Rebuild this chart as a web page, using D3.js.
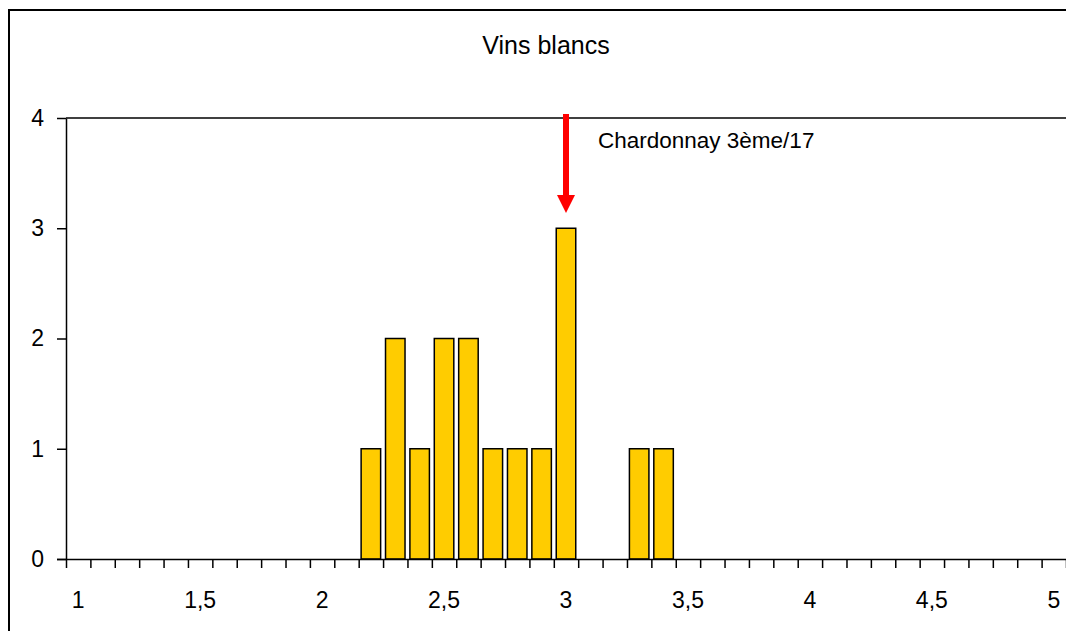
<!DOCTYPE html>
<html>
<head>
<meta charset="utf-8">
<script src="https://cdn.jsdelivr.net/npm/d3@7"></script>
<style>
  html, body { margin: 0; padding: 0; background: #fff; overflow: hidden; }
  svg { display: block; }
  text { font-family: "Liberation Sans", Arial, sans-serif; fill: #000; }
</style>
</head>
<body>
<div id="chart"></div>
<script>
// data
var scores = [2.2, 2.3, 2.4, 2.5, 2.6, 2.7, 2.8, 2.9, 3.0, 3.3, 3.4];
var counts = [1, 2, 1, 2, 2, 1, 1, 1, 3, 1, 1];
var xTickLabels = [1, 1.5, 2, 2.5, 3, 3.5, 4, 4.5, 5];
var yTickLabels = [0, 1, 2, 3, 4];
var title = "Vins blancs";
var noteText = "Chardonnay 3ème/17";
var noteScore = 3.0;

var svgWidth = 1066;
var svgHeight = 631;

var plot = { left: 66, top: 118, right: 1066, bottom: 559 };

var svg = d3.select("#chart")
  .append("svg")
  .attr("width", svgWidth)
  .attr("height", svgHeight);

// outer chart frame: only its top and left sides fall inside the window
svg.append("line")
  .attr("x1", 8).attr("x2", svgWidth)
  .attr("y1", 10).attr("y2", 10)
  .attr("stroke", "#000")
  .attr("stroke-width", 2);
svg.append("line")
  .attr("x1", 9).attr("x2", 9)
  .attr("y1", 9).attr("y2", svgHeight)
  .attr("stroke", "#000")
  .attr("stroke-width", 2);

// scales: each score is a 0.1 wide class centred on its value
var x = d3.scaleLinear()
  .domain([0.95, 5.05])
  .range([plot.left, plot.right]);

var y = d3.scaleLinear()
  .domain([0, 4])
  .range([plot.bottom, plot.top]);

// plot area top border
svg.append("line")
  .attr("x1", plot.left).attr("x2", plot.right)
  .attr("y1", plot.top).attr("y2", plot.top)
  .attr("stroke", "#000")
  .attr("stroke-width", 1.5);

// bars
var rows = scores.map(function(s, i) { return { score: s, count: counts[i] }; });

svg.selectAll("rect.bar")
  .data(rows)
  .enter()
  .append("rect")
  .attr("class", "bar")
  .attr("x", d => x(d.score - 0.04))
  .attr("y", d => y(d.count))
  .attr("width", d => x(d.score + 0.04) - x(d.score - 0.04))
  .attr("height", d => y(0) - y(d.count))
  .attr("fill", "#FFCC00")
  .attr("stroke", "#000")
  .attr("stroke-width", 1.5);

// x axis: tick marks on class boundaries, labels every 0.5
var boundaries = d3.range(0, 42).map(k => 0.95 + k * 0.1);

var xAxis = d3.axisBottom(x)
  .tickValues(boundaries)
  .tickFormat("")
  .tickSize(9)
  .tickSizeOuter(0);

var gx = svg.append("g")
  .attr("transform", `translate(0, ${plot.bottom})`)
  .call(xAxis);
gx.select(".domain").attr("stroke", "#000").attr("stroke-width", 1.5)
  .attr("d", `M${plot.left - 9},0.5H${plot.right}`);
gx.selectAll(".tick line").attr("stroke", "#000").attr("stroke-width", 1.5);

var fmt = d3.formatLocale({ decimal: ",", thousands: " ", grouping: [3], currency: ["", "€"] }).format("~g");

svg.append("g")
  .selectAll("text")
  .data(xTickLabels)
  .enter()
  .append("text")
  .attr("x", d => x(d))
  .attr("y", 608)
  .attr("text-anchor", "middle")
  .attr("font-size", "23px")
  .text(d => fmt(d));

// y axis
var yAxis = d3.axisLeft(y)
  .tickValues(yTickLabels)
  .tickFormat(d3.format("d"))
  .tickSize(9)
  .tickSizeOuter(0)
  .tickPadding(13);

var gy = svg.append("g")
  .attr("transform", `translate(${plot.left}, 0)`)
  .call(yAxis);
gy.select(".domain").attr("stroke", "#000").attr("stroke-width", 1.5);
gy.selectAll(".tick line").attr("stroke", "#000").attr("stroke-width", 1.5);
gy.selectAll(".tick text")
  .attr("font-size", "23px")
  .attr("font-family", "Liberation Sans, Arial, sans-serif")
  .attr("fill", "#000");

// title
svg.append("text")
  .attr("x", 546)
  .attr("y", 54)
  .attr("text-anchor", "middle")
  .attr("font-size", "25px")
  .text(title);

// red arrow pointing at the Chardonnay bar
var ax = x(noteScore);
svg.append("line")
  .attr("x1", ax)
  .attr("x2", ax)
  .attr("y1", 114)
  .attr("y2", 198)
  .attr("stroke", "#FF0000")
  .attr("stroke-width", 6);

svg.append("path")
  .attr("d", `M${ax - 9},195L${ax + 9},195L${ax},213Z`)
  .attr("fill", "#FF0000");

svg.append("text")
  .attr("x", 598)
  .attr("y", 148)
  .attr("font-size", "22.5px")
  .text(noteText);
</script>
</body>
</html>
